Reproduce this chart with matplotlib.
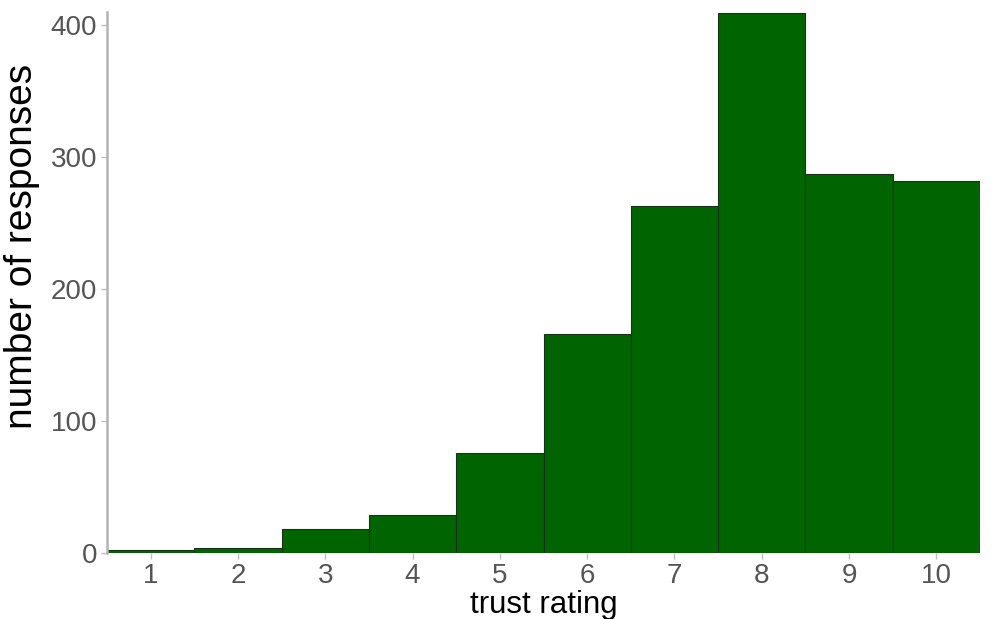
import matplotlib.pyplot as plt

plt.rcParams["font.family"] = ["Liberation Sans", "DejaVu Sans"]

ratings = [1, 2, 3, 4, 5, 6, 7, 8, 9, 10]
responses = [2, 4, 18, 29, 76, 166, 263, 409, 287, 282]
y_ticks = [0, 100, 200, 300, 400]

fig = plt.figure(figsize=(9.95, 6.19), dpi=100)
ax = fig.add_axes([0.1075, 0.1066, 0.8775, 0.8744])

ax.bar(ratings, responses, width=1.0, color="#006400",
       edgecolor="#1c2e1c", linewidth=0.8)

ax.set_xlim(0.5, 10.5)
ax.set_ylim(0, 410)
ax.set_xticks(ratings)
ax.set_yticks(y_ticks)

for side in ["top", "right", "bottom"]:
    ax.spines[side].set_visible(False)
ax.spines["left"].set_color("#b3b3b3")
ax.spines["left"].set_linewidth(1.8)

ax.tick_params(axis="both", colors="#bdbdbd", length=4, width=1,
               labelcolor="#555555", labelsize=20, pad=3)

ax.set_xlabel("trust rating", fontsize=22.5, color="black", labelpad=1)
ax.set_ylabel("number of responses", fontsize=28, color="black")
ax.yaxis.set_label_coords(-0.077, 0.567)

fig.savefig("out.png", dpi=100)
